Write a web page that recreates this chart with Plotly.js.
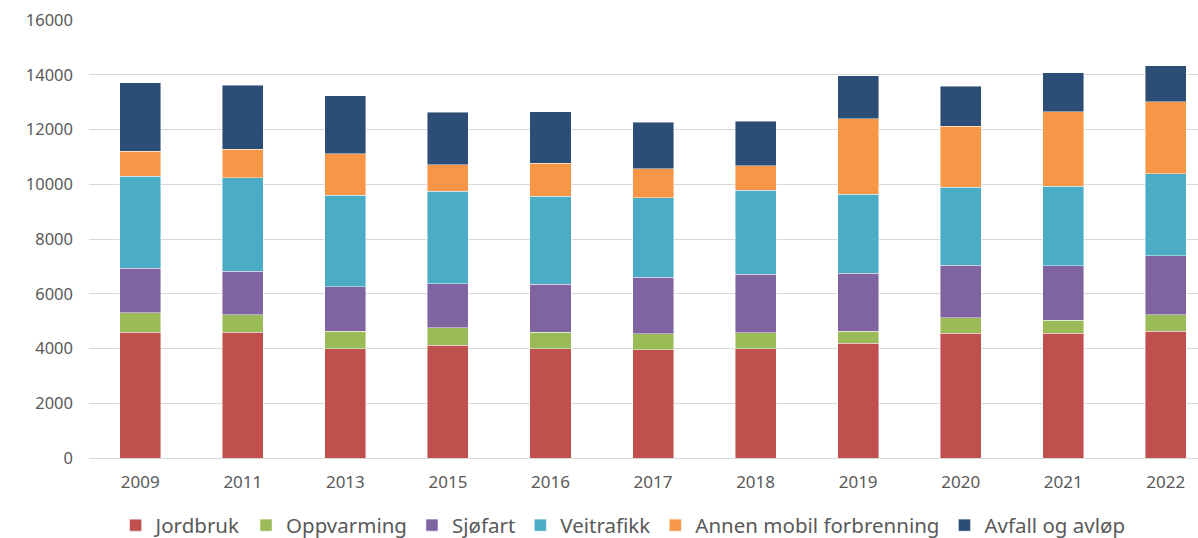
<!DOCTYPE html>
<html>
<head>
<meta charset="utf-8">
<script src="https://cdn.plot.ly/plotly-3.0.1.min.js"></script>
<style>
html,body{margin:0;padding:0;background:#fff;}
#chart{width:1198px;height:538px;}
</style>
</head>
<body>
<div id="chart"></div>
<script>
const years = ["2009","2011","2013","2015","2016","2017","2018","2019","2020","2021","2022"];
const jordbruk   = [4600, 4600, 4000, 4110, 4000, 3960, 4000, 4190, 4555, 4555, 4630];
const oppvarming = [710,  640,  630,  640,  600,  570,  570,  440,  575,  485,  610];
const sjofart    = [1630, 1580, 1630, 1620, 1740, 2070, 2145, 2120, 1920, 1975, 2155];
const veitrafikk = [3360, 3410, 3340, 3370, 3220, 2910, 3070, 2890, 2840, 2910, 2980];
const annenMobil = [900,  1050, 1520, 975,  1200, 1060, 900,  2750, 2230, 2715, 2645];
const avfall     = [2500, 2340, 2120, 1920, 1890, 1690, 1620, 1570, 1460, 1440, 1315];

const seriesNames = ["Jordbruk","Oppvarming","Sjøfart","Veitrafikk","Annen mobil forbrenning","Avfall og avløp"];
const seriesData = [jordbruk, oppvarming, sjofart, veitrafikk, annenMobil, avfall];
const colors = ["#C0504D","#9BBB59","#8064A2","#4BACC6","#F79646","#2C4D75"];

const traces = seriesNames.map((name, i) => ({
  type: "bar",
  name: name,
  x: years,
  y: seriesData[i],
  marker: {color: colors[i], line: {color: "rgba(255,255,255,0.55)", width: 0.8}},
  hoverinfo: "x+y+name"
}));

const layout = {
  width: 1198,
  height: 538,
  barmode: "stack",
  bargap: 0.6,
  paper_bgcolor: "#ffffff",
  plot_bgcolor: "#ffffff",
  margin: {l: 89, r: 0, t: 19.5, b: 80.3, pad: 0, autoexpand: false},
  font: {family: "Noto Sans, Open Sans, sans-serif", color: "#595959"},
  xaxis: {
    type: "category",
    range: [-0.5, 10.314],
    showgrid: false,
    showline: false,
    zeroline: false,
    ticks: "",
    automargin: false,
    tickfont: {size: 17, color: "#595959"},
    ticklabelstandoff: 12
  },
  yaxis: {
    range: [0, 16000],
    dtick: 2000,
    tickformat: "d",
    showgrid: true,
    gridcolor: "#D9D9D9",
    gridwidth: 1.3,
    zeroline: true,
    zerolinecolor: "#D9D9D9",
    zerolinewidth: 1.3,
    showline: false,
    ticks: "",
    automargin: false,
    tickfont: {size: 16.5, color: "#595959"},
    ticklabelstandoff: 15,
    fixedrange: true
  },
  showlegend: true,
  legend: {
    orientation: "h",
    x: 0.024,
    xanchor: "left",
    y: -0.108,
    yanchor: "top",
    traceorder: "normal",
    font: {size: 20.5, color: "#595959"},
    bgcolor: "rgba(0,0,0,0)",
    itemclick: false
  }
};

Plotly.newPlot("chart", traces, layout, {displayModeBar: false});
</script>
</body>
</html>
